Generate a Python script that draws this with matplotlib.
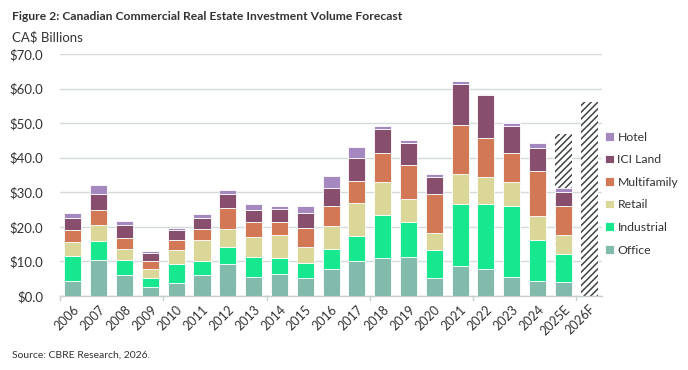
import matplotlib.pyplot as plt
import numpy as np

plt.rcParams['font.family'] = ['Lato', 'DejaVu Sans']

years = ['2006', '2007', '2008', '2009', '2010', '2011', '2012', '2013', '2014', '2015',
         '2016', '2017', '2018', '2019', '2020', '2021', '2022', '2023', '2024', '2025E', '2026F']

# segment values (billions), last one (2026F) only has a forecast total
office      = [4.3, 10.4, 6.0, 2.6, 3.7, 6.0, 9.4, 5.5, 6.5, 5.1, 7.7, 10.2, 10.9, 11.4, 5.3, 8.6, 7.7, 5.5, 4.2, 4.0, 0]
industrial  = [7.3, 5.6, 4.4, 2.7, 5.7, 4.2, 4.9, 5.7, 4.6, 4.5, 5.8, 7.3, 12.5, 10.1, 8.1, 17.9, 18.9, 20.6, 12.0, 8.2, 0]
retail      = [3.9, 4.5, 3.2, 2.4, 3.9, 5.9, 5.0, 5.9, 6.5, 4.7, 6.7, 9.3, 9.7, 6.6, 4.9, 8.9, 7.8, 6.9, 6.9, 5.4, 0]
multifamily = [3.6, 4.5, 3.2, 2.4, 2.9, 3.4, 6.1, 4.2, 3.7, 5.5, 5.7, 6.4, 8.3, 9.8, 11.1, 14.2, 11.4, 8.4, 13.2, 8.3, 0]
ici_land    = [3.5, 4.6, 3.8, 2.4, 2.8, 3.2, 4.2, 3.7, 3.8, 4.1, 5.2, 6.8, 7.0, 6.5, 5.1, 11.8, 12.3, 7.9, 6.6, 4.1, 0]
hotel       = [1.4, 2.5, 1.1, 0.5, 0.6, 0.9, 1.0, 1.7, 1.0, 2.2, 3.6, 3.1, 0.8, 0.7, 0.7, 0.8, 0.4, 0.8, 1.3, 1.1, 0]
forecast    = [0] * 19 + [47.0, 56.2]

series = [('Office', office, '#82bbab'),
          ('Industrial', industrial, '#17e88f'),
          ('Retail', retail, '#dbd799'),
          ('Multifamily', multifamily, '#d37855'),
          ('ICI Land', ici_land, '#884e6e'),
          ('Hotel', hotel, '#a688c0')]

fig = plt.figure(figsize=(6.88, 3.70), dpi=100)
ax = fig.add_axes([0.0872, 0.2, 0.788, 0.654])

x = np.arange(len(years))
w = 0.66

plt.rcParams['hatch.linewidth'] = 1.1
plt.rcParams['hatch.color'] = '#3f4444'
ax.bar(x, forecast, w, color='white', hatch='/////', edgecolor='#3f4444', linewidth=0, zorder=2)

bottom = np.zeros(len(years))
handles = []
for name, vals, col in series:
    b = ax.bar(x, vals, w, bottom=bottom, color=col, edgecolor='white', linewidth=0.6, label=name, zorder=3)
    handles.append(b)
    bottom += np.array(vals)

ax.set_xlim(-0.5, len(years) - 0.5)
ax.set_ylim(0, 70)
ax.set_yticks(np.arange(0, 71, 10))
ax.set_yticklabels(['$%.1f' % v for v in np.arange(0, 71, 10)], fontsize=9.5, color='#333333')
ax.grid(axis='y', color='#d5dadb', linewidth=1, zorder=0)
ax.set_axisbelow(True)
ax.tick_params(axis='y', length=0, pad=12)

ax.set_xticks(x)
ax.set_xticklabels(years, rotation=45, ha='right', rotation_mode='anchor', fontsize=9, color='#333333')
ax.tick_params(axis='x', length=0, pad=5)
# small tick marks every 4 categories
for t in np.arange(-0.5, len(years), 4):
    ax.plot([t, t], [0, -1.2], color='#c8cdce', linewidth=1, clip_on=False, zorder=1)

for s in ['top', 'right', 'left']:
    ax.spines[s].set_visible(False)
ax.spines['bottom'].set_color('#c8cdce')
ax.spines['bottom'].set_linewidth(1)

leg = ax.legend(handles[::-1], [s[0] for s in series][::-1], loc='upper left',
                bbox_to_anchor=(0.99, 0.715), frameon=False, fontsize=8.8,
                handlelength=0.7, handleheight=0.7, handletextpad=0.3, labelspacing=0.95,
                borderaxespad=0.3)
for t in leg.get_texts():
    t.set_color('#333333')

fig.text(0.017, 0.955, 'Figure 2: Canadian Commercial Real Estate Investment Volume Forecast',
         fontsize=8.7, fontweight='bold', color='#333333', va='center')
fig.text(0.017, 0.898, 'CA$ Billions', fontsize=9.5, color='#333333', va='center')
fig.text(0.017, 0.04, 'Source: CBRE Research, 2026.', fontsize=7.5, color='#333333', va='center')

fig.savefig('out.png', dpi=100)
